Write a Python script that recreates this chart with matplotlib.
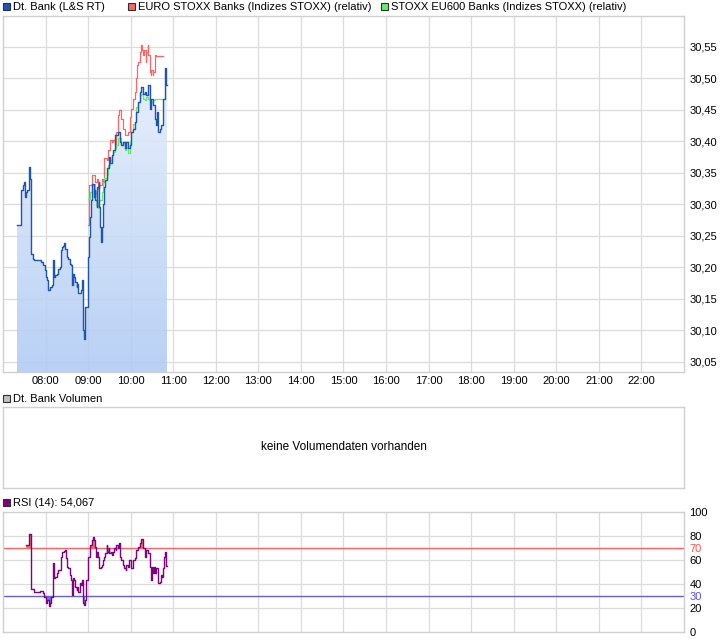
import numpy as np
import pandas as pd
import matplotlib
matplotlib.use("Agg")
from matplotlib import pyplot as plt
import matplotlib.dates as mdates
from matplotlib.patches import Rectangle
from matplotlib.colors import LinearSegmentedColormap
from matplotlib.ticker import FuncFormatter

# Dt. Bank (L&S RT)
bank_time = ["07:20", "07:25", "07:26", "07:28", "07:30", "07:31", "07:32", "07:34", "07:37", "07:38",
             "07:40", "07:42", "07:44", "07:52", "07:54", "07:57", "07:59", "08:00", "08:02", "08:04",
             "08:06", "08:09", "08:10", "08:11", "08:12", "08:14", "08:16", "08:18", "08:20", "08:22",
             "08:23", "08:25", "08:26", "08:28", "08:30", "08:32", "08:34", "08:36", "08:37", "08:38",
             "08:40", "08:42", "08:44", "08:45", "08:46", "08:50", "08:52", "08:53", "08:54", "08:56",
             "09:00", "09:01", "09:03", "09:04", "09:05", "09:06", "09:08", "09:09", "09:10", "09:12",
             "09:13", "09:15", "09:16", "09:17", "09:18", "09:19", "09:20", "09:21", "09:22", "09:24",
             "09:26", "09:27", "09:29", "09:30", "09:31", "09:33", "09:35", "09:38", "09:42", "09:45",
             "09:47", "09:49", "09:52", "09:54", "09:56", "09:59", "10:01", "10:03", "10:06", "10:08",
             "10:10", "10:13", "10:15", "10:17", "10:20", "10:22", "10:24", "10:27", "10:29", "10:31",
             "10:34", "10:35", "10:37", "10:38", "10:41", "10:43", "10:45", "10:46", "10:48", "10:49",
             "10:50", "10:51"]
bank_price = [30.267, 30.294, 30.323, 30.330, 30.336, 30.312, 30.320, 30.323, 30.360, 30.341,
              30.222, 30.214, 30.211, 30.212, 30.209, 30.204, 30.196, 30.185, 30.180, 30.164,
              30.169, 30.172, 30.196, 30.211, 30.185, 30.188, 30.190, 30.198, 30.201, 30.227,
              30.233, 30.234, 30.238, 30.230, 30.217, 30.214, 30.206, 30.204, 30.172, 30.190,
              30.185, 30.177, 30.169, 30.174, 30.159, 30.164, 30.180, 30.100, 30.087, 30.137,
              30.217, 30.248, 30.280, 30.307, 30.328, 30.333, 30.312, 30.323, 30.307, 30.296,
              30.328, 30.336, 30.296, 30.264, 30.240, 30.262, 30.264, 30.301, 30.328, 30.338,
              30.346, 30.357, 30.362, 30.375, 30.365, 30.378, 30.386, 30.410, 30.415, 30.399,
              30.394, 30.399, 30.389, 30.399, 30.389, 30.394, 30.415, 30.420, 30.431, 30.447,
              30.463, 30.479, 30.487, 30.476, 30.479, 30.473, 30.489, 30.452, 30.468, 30.457,
              30.436, 30.426, 30.447, 30.415, 30.420, 30.426, 30.436, 30.468, 30.500, 30.516,
              30.489, 30.489]

# EURO STOXX Banks (relativ)
euro_time = ["09:00", "09:01", "09:05", "09:09", "09:12", "09:14", "09:16", "09:19", "09:21", "09:23",
             "09:26", "09:28", "09:31", "09:33", "09:35", "09:38", "09:40", "09:42", "09:44", "09:46",
             "09:47", "09:49", "09:52", "09:56", "09:59", "10:01", "10:03", "10:06", "10:08", "10:09",
             "10:11", "10:13", "10:14", "10:16", "10:17", "10:19", "10:21", "10:22", "10:24", "10:25",
             "10:27", "10:28", "10:29", "10:31", "10:32", "10:34", "10:35", "10:45"]
euro_val = [30.267, 30.330, 30.346, 30.336, 30.341, 30.325, 30.330, 30.341, 30.336, 30.373,
            30.370, 30.386, 30.402, 30.399, 30.402, 30.394, 30.415, 30.442, 30.450, 30.439,
            30.436, 30.420, 30.410, 30.415, 30.439, 30.452, 30.468, 30.479, 30.500, 30.521,
            30.526, 30.542, 30.553, 30.545, 30.537, 30.545, 30.526, 30.542, 30.553, 30.537,
            30.510, 30.505, 30.513, 30.505, 30.510, 30.537, 30.536, 30.536]

# STOXX EU600 Banks (relativ)
eu600_time = ["09:00", "09:02", "09:05", "09:07", "09:09", "09:12", "09:14", "09:16", "09:19", "09:21",
              "09:23", "09:26", "09:28", "09:31", "09:33", "09:35", "09:38", "09:40", "09:42", "09:47",
              "09:49", "09:52", "09:54", "09:56", "09:59", "10:01", "10:03", "10:06", "10:08", "10:10",
              "10:13", "10:15", "10:17", "10:20", "10:22", "10:24", "10:27", "10:31", "10:34", "10:45"]
eu600_val = [30.309, 30.320, 30.330, 30.333, 30.318, 30.299, 30.294, 30.307, 30.319, 30.336,
             30.342, 30.346, 30.362, 30.370, 30.378, 30.383, 30.389, 30.394, 30.405, 30.394,
             30.399, 30.386, 30.389, 30.381, 30.399, 30.415, 30.428, 30.431, 30.455, 30.463,
             30.473, 30.476, 30.468, 30.465, 30.471, 30.468, 30.463, 30.465, 30.468, 30.468]

# RSI (14)
rsi_time = ["07:33", "07:36", "07:37", "07:39", "07:40", "07:43", "07:52", "07:56", "07:58", "08:00",
            "08:02", "08:05", "08:06", "08:08", "08:10", "08:11", "08:12", "08:14", "08:16", "08:18",
            "08:20", "08:22", "08:23", "08:26", "08:27", "08:29", "08:30", "08:32", "08:34", "08:36",
            "08:37", "08:38", "08:40", "08:42", "08:44", "08:45", "08:46", "08:48", "08:50", "08:51",
            "08:53", "08:54", "08:55", "08:57", "09:00", "09:02", "09:05", "09:07", "09:08", "09:09",
            "09:11", "09:12", "09:14", "09:15", "09:16", "09:18", "09:19", "09:21", "09:22", "09:24",
            "09:26", "09:27", "09:29", "09:30", "09:32", "09:33", "09:35", "09:37", "09:39", "09:40",
            "09:42", "09:43", "09:45", "09:46", "09:49", "09:51", "09:53", "09:54", "09:56", "09:58",
            "10:00", "10:01", "10:03", "10:06", "10:08", "10:10", "10:13", "10:15", "10:17", "10:18",
            "10:20", "10:22", "10:24", "10:27", "10:28", "10:30", "10:31", "10:33", "10:34", "10:36",
            "10:38", "10:39", "10:41", "10:43", "10:44", "10:46", "10:47", "10:48", "10:50", "10:51"]
rsi_val = [72.5, 74.0, 81.7, 71.0, 35.5, 33.6, 34.2, 32.2, 29.4, 24.0,
           26.7, 21.7, 24.0, 29.4, 43.3, 57.2, 44.7, 46.0, 48.9, 51.7,
           52.0, 62.8, 66.9, 67.8, 68.3, 61.4, 54.4, 53.0, 47.5, 43.3,
           30.8, 44.7, 43.3, 37.8, 35.0, 37.8, 33.6, 40.6, 39.0, 43.3,
           24.0, 22.5, 26.7, 43.3, 62.8, 72.5, 76.7, 79.4, 76.7, 71.0,
           62.8, 66.9, 62.8, 60.0, 53.0, 54.4, 55.8, 60.0, 62.8, 65.6,
           72.5, 66.9, 69.7, 65.6, 66.9, 64.2, 66.9, 69.7, 68.3, 72.5,
           69.7, 74.0, 62.8, 60.0, 55.8, 53.0, 51.7, 55.8, 54.4, 60.0,
           57.2, 53.0, 60.0, 61.4, 68.3, 71.0, 74.0, 77.2, 72.5, 69.7,
           62.8, 68.3, 65.6, 54.4, 43.3, 54.4, 48.9, 54.4, 48.9, 53.0,
           44.7, 40.6, 42.0, 47.5, 46.0, 53.0, 62.8, 66.9, 55.0, 55.0]

hour_ticks = ["08:00", "09:00", "10:00", "11:00", "12:00", "13:00", "14:00", "15:00",
              "16:00", "17:00", "18:00", "19:00", "20:00", "21:00", "22:00"]
price_ticks = [30.05, 30.10, 30.15, 30.20, 30.25, 30.30, 30.35, 30.40, 30.45, 30.50, 30.55]
rsi_ticks = [0, 20, 30, 40, 60, 70, 80, 100]


def to_num(ts):
    return mdates.date2num(pd.to_datetime(["2024-01-02 " + s for s in ts]))


plt.rcParams['font.family'] = ['Liberation Sans', 'DejaVu Sans']
plt.rcParams['font.size'] = 8

W, H = 726, 640
fig = plt.figure(figsize=(W / 100, H / 100), dpi=100)

GRID = '#dcdcdc'
EDGE = '#d0d0d0'
BLUE = '#1b55b5'
RED = '#ff6464'
GREEN = '#60f060'
PURPLE = '#800080'

x0, x1 = to_num(["07:00", "23:00"])
xt = to_num(hour_ticks)


def box(left, top, right, bottom):
    return fig.add_axes([left / W, 1 - bottom / H, (right - left) / W, (bottom - top) / H])


def style(ax):
    for s in ax.spines.values():
        s.set_color(EDGE)
        s.set_linewidth(1)
    ax.tick_params(length=0)
    ax.set_xlim(x0, x1)


def legend_item(x, y, color, text):
    fig.add_artist(Rectangle((x / W, 1 - (y + 7) / H), 7 / W, 7 / H, transform=fig.transFigure,
                             facecolor=color, edgecolor='#303030', linewidth=0.8))
    fig.text((x + 10) / W, 1 - (y + 3.5) / H, text, va='center', ha='left', fontsize=8)


# ---- price panel
ax = box(3, 16, 684, 372)
style(ax)
ylo, yhi = 30.034, 30.599
ax.set_ylim(ylo, yhi)
ax.set_xticks(xt)
ax.set_xticklabels(hour_ticks)
ax.set_yticks(price_ticks)
ax.yaxis.set_major_formatter(FuncFormatter(lambda v, p: ("%.2f" % v).replace('.', ',')))
ax.yaxis.tick_right()
ax.tick_params(axis='y', pad=4, labelsize=8)
ax.tick_params(axis='x', pad=3, labelsize=8)
ax.grid(True, color=GRID, linewidth=0.9)
ax.set_axisbelow(True)

tb = to_num(bank_time)
poly = ax.fill_between(tb, bank_price, ylo, step='post', facecolor='none', edgecolor='none')
grad = np.linspace(0, 1, 256).reshape(-1, 1)
cmap = LinearSegmentedColormap.from_list('fillgrad', ['#eef4fd', '#b0cbf4'])
im = ax.imshow(grad, extent=[x0, x1, ylo, yhi], origin='upper', aspect='auto', cmap=cmap,
               alpha=0.88, zorder=1.5)
im.set_clip_path(poly.get_paths()[0], transform=ax.transData)
ax.set_xlim(x0, x1)
ax.set_ylim(ylo, yhi)

ax.plot(to_num(euro_time), euro_val, drawstyle='steps-post', color=RED, lw=0.9, zorder=3)
ax.plot(to_num(eu600_time), eu600_val, drawstyle='steps-post', color=GREEN, lw=0.9, zorder=3.5)
ax.plot(tb, bank_price, drawstyle='steps-post', color=BLUE, lw=1.0, zorder=4)

legend_item(3, 3, '#1b55c0', 'Dt. Bank (L&S RT)')
legend_item(128, 3, '#ff6464', 'EURO STOXX Banks (Indizes STOXX) (relativ)')
legend_item(381, 3, '#66ee66', 'STOXX EU600 Banks (Indizes STOXX) (relativ)')

# ---- volume panel
axv = box(3, 407, 684, 488)
style(axv)
axv.set_xticks([])
axv.set_yticks([])
axv.text(0.5, 0.5, 'keine Volumendaten vorhanden', transform=axv.transAxes,
         ha='center', va='center', fontsize=8.5)
legend_item(3, 395, '#c0c0c0', 'Dt. Bank Volumen')

# ---- RSI panel
axr = box(3, 512, 684, 632)
style(axr)
axr.set_ylim(0, 100)
axr.set_xticks(xt)
axr.set_xticklabels([])
axr.grid(True, axis='x', color=GRID, linewidth=0.9)
for g in [20, 40, 60, 80]:
    axr.axhline(g, color=GRID, linewidth=0.9, zorder=0.5)
axr.set_axisbelow(True)
axr.set_yticks(rsi_ticks)
axr.yaxis.tick_right()
axr.tick_params(axis='y', pad=4, labelsize=8)
for lbl, v in zip(axr.get_yticklabels(), rsi_ticks):
    if v == 70:
        lbl.set_color('#ff5050')
    elif v == 30:
        lbl.set_color('#5050ff')

tr = to_num(rsi_time)
rv = np.array(rsi_val)
axr.fill_between(tr, rv, 70, where=rv > 70, step='post', color='#ff7070', lw=0, zorder=2)
axr.fill_between(tr, rv, 30, where=rv < 30, step='post', color='#7070ff', lw=0, zorder=2)
axr.axhline(70, color='#ff6060', linewidth=1, zorder=2.5)
axr.axhline(30, color='#6060e0', linewidth=1, zorder=2.5)
axr.plot(tr, rv, drawstyle='steps-post', color=PURPLE, lw=1.0, zorder=3)
legend_item(3, 499, PURPLE, 'RSI (14): 54,067')

fig.savefig('out.png', dpi=100)
